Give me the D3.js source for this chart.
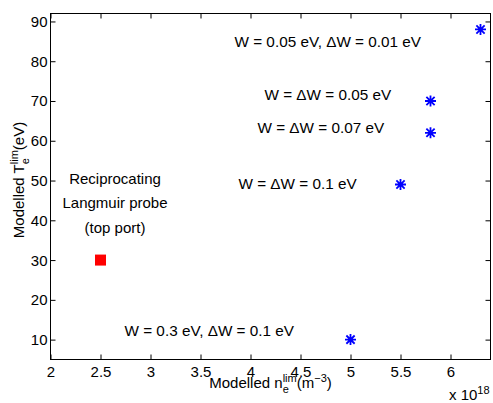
<!DOCTYPE html>
<html>
<head>
<meta charset="utf-8">
<script src="https://cdn.jsdelivr.net/npm/d3@7"></script>
<style>
  html, body { margin: 0; padding: 0; background: #fff; }
  svg { display: block; }
  text { font-family: "Liberation Sans", Arial, Helvetica, sans-serif; fill: #000; }
</style>
</head>
<body>
<svg id="chart" width="493" height="403"></svg>
<script>
// Probe measurement (density in units of 1e18 m^-3, temperature in eV)
const probeN = [2.5];
const probeT = [30];

// Modelled limiter values for each W / ΔW case
const modelN = [5.0, 5.5, 5.8, 5.8, 6.3];
const modelT = [10, 49, 62, 70, 88];

// Case annotations, placed in data coordinates (left edge, vertical middle)
const caseLabels = ["W = 0.3 eV, \u0394W = 0.1 eV", "W = \u0394W = 0.1 eV", "W = \u0394W = 0.07 eV",
                    "W = \u0394W = 0.05 eV", "W = 0.05 eV, \u0394W = 0.01 eV"];
const caseLabelN = [2.74, 3.88, 4.07, 4.14, 3.84];
const caseLabelT = [12.3, 49.3, 63.4, 71.5, 84.9];

const probeLines = ["Reciprocating", "Langmuir probe", "(top port)"];

// Axis ticks
const xTicks = [2, 2.5, 3, 3.5, 4, 4.5, 5, 5.5, 6];
const xTickLabels = ["2", "2.5", "3", "3.5", "4", "4.5", "5", "5.5", "6"];
const yTicks = [10, 20, 30, 40, 50, 60, 70, 80, 90];
const yTickLabels = ["10", "20", "30", "40", "50", "60", "70", "80", "90"];

const svg = d3.select("#chart");
const box = { left: 50.5, right: 490.5, top: 13.5, bottom: 359.5 };
const FS = 15;

const x = d3.scaleLinear().domain([2, 6.4]).range([box.left, box.right]);
const y = d3.scaleLinear().domain([5, 92]).range([box.bottom, box.top]);

// Axes with inward ticks on all four sides
function styleAxis(g) {
  g.select(".domain").remove();
  g.selectAll(".tick line").attr("stroke", "#000");
  g.selectAll(".tick text").attr("font-size", FS).attr("font-family", null);
}

const gx = svg.append("g").attr("transform", `translate(0,${box.bottom})`)
  .call(d3.axisBottom(x).tickValues(xTicks).tickFormat((d, i) => xTickLabels[i]).tickSize(-5).tickSizeOuter(0));
styleAxis(gx);
gx.selectAll(".tick text").attr("y", 17).attr("dy", 0);

const gy = svg.append("g").attr("transform", `translate(${box.left},0)`)
  .call(d3.axisLeft(y).tickValues(yTicks).tickFormat((d, i) => yTickLabels[i]).tickSize(-5).tickSizeOuter(0).tickPadding(3));
styleAxis(gy);
gy.selectAll(".tick text").attr("dy", "0.33em");

const gt = svg.append("g").attr("transform", `translate(0,${box.top})`)
  .call(d3.axisTop(x).tickValues(xTicks).tickFormat("").tickSize(-5).tickSizeOuter(0));
styleAxis(gt);

const gr = svg.append("g").attr("transform", `translate(${box.right},0)`)
  .call(d3.axisRight(y).tickValues(yTicks).tickFormat("").tickSize(-5).tickSizeOuter(0));
styleAxis(gr);

svg.append("rect")
  .attr("x", box.left).attr("y", box.top)
  .attr("width", box.right - box.left).attr("height", box.bottom - box.top)
  .attr("fill", "none").attr("stroke", "#000").attr("stroke-width", 1);

// Rich label: runs of normal text, superscripts, subscripts and stacked sub/sup pairs
function richLabel(parent, segs) {
  const g = parent.append("g");
  let cx = 0;
  const put = (t, size, dy) => {
    const el = g.append("text").attr("x", cx).attr("y", dy).attr("font-size", size).text(t);
    return el.node().getComputedTextLength();
  };
  segs.forEach(s => {
    if (s.t !== undefined) cx += put(s.t, FS, 0);
    else if (s.sup !== undefined && s.sub === undefined) cx += put(s.sup, 11, -6);
    else {
      const a = put(s.sub, 11, 5);
      const b = put(s.sup, 11, -6);
      cx += Math.max(a, b);
    }
  });
  return { g, width: cx };
}

// x label
{
  const lab = richLabel(svg, [{ t: "Modelled n" }, { sub: "e", sup: "lim" }, { t: " (m" }, { sup: "\u22123" }, { t: ")" }]);
  const cxm = (box.left + box.right) / 2;
  lab.g.attr("transform", `translate(${cxm - lab.width / 2},388)`);
}
// y label
{
  const lab = richLabel(svg, [{ t: "Modelled T" }, { sub: "e", sup: "lim" }, { t: " (eV)" }]);
  const cym = 180;
  lab.g.attr("transform", `translate(24,${cym + lab.width / 2}) rotate(-90)`);
}
// exponent multiplier
{
  const lab = richLabel(svg, [{ t: "x 10" }, { sup: "18" }]);
  lab.g.attr("transform", "translate(449,400)");
}

// Probe marker
svg.append("g").selectAll("rect").data(probeN).join("rect")
  .attr("x", (d, i) => x(d) - 5.5).attr("y", (d, i) => y(probeT[i]) - 5.5)
  .attr("width", 11).attr("height", 11).attr("fill", "#ff0000");

// Modelled points as eight-armed asterisks
const r = 5.5, rd = r * 0.75;
const star = `M${-r},0L${r},0M0,${-r}L0,${r}M${-rd},${-rd}L${rd},${rd}M${-rd},${rd}L${rd},${-rd}`;
svg.append("g").selectAll("path").data(modelN).join("path")
  .attr("transform", (d, i) => `translate(${x(d)},${y(modelT[i])})`)
  .attr("d", star).attr("fill", "none").attr("stroke", "#0000ff").attr("stroke-width", 1.8);

// Case annotations
svg.append("g").selectAll("text").data(caseLabels).join("text")
  .attr("x", (d, i) => x(caseLabelN[i]))
  .attr("y", (d, i) => y(caseLabelT[i]))
  .attr("dy", "0.35em")
  .attr("font-size", 15.3)
  .text(d => d);

// Probe annotation, centred lines
svg.append("g").selectAll("text").data(probeLines).join("text")
  .attr("x", x(2.645))
  .attr("y", (d, i) => y(50.5) + i * 24.5)
  .attr("dy", "0.35em")
  .attr("text-anchor", "middle")
  .attr("font-size", FS)
  .text(d => d);
</script>
</body>
</html>
